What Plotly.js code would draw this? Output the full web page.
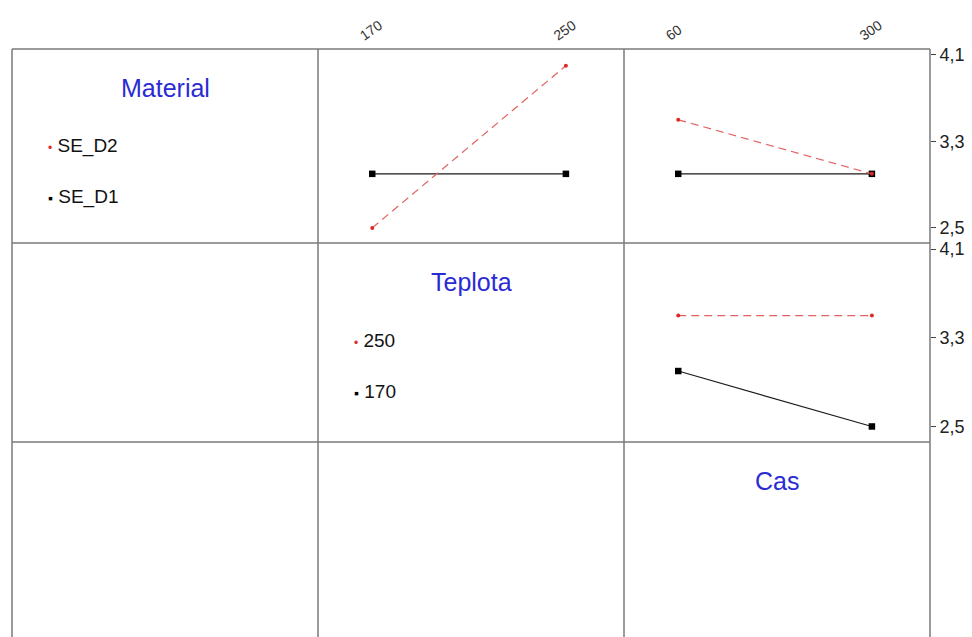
<!DOCTYPE html>
<html>
<head>
<meta charset="utf-8">
<script src="https://cdn.plot.ly/plotly-3.0.1.min.js"></script>
<style>
  html, body { margin: 0; padding: 0; overflow: hidden; background: #fff; }
  #chart { width: 972px; height: 645px; }
</style>
</head>
<body>
<div id="chart"></div>
<script>
// Factor names (diagonal of the matrix) and their levels
const factors = ['Material', 'Teplota', 'Cas'];
const teplotaLevels = ['170', '250'];
const casLevels = ['60', '300'];
const materialLegend = ['SE_D2', 'SE_D1'];
const teplotaLegend = ['250', '170'];

// Cell means: Material x Teplota
const seD1ByTeplota = [3.0, 3.0];
const seD2ByTeplota = [2.5, 4.0];
// Material x Cas
const seD1ByCas = [3.0, 3.0];
const seD2ByCas = [3.5, 3.0];
// Teplota x Cas
const t170ByCas = [3.0, 2.5];
const t250ByCas = [3.5, 3.5];

const yTicks = [2.5, 3.3, 4.1];

// Styles for the two levels of each line factor
const lowStyle = {
  mode: 'lines+markers',
  line: { color: '#1a1a1a', width: 1.2 },
  marker: { color: '#000', symbol: 'square', size: 6.5 }
};
const highStyle = {
  mode: 'lines+markers',
  line: { color: '#e26262', width: 1.2, dash: '8px,5px' },
  marker: { color: '#e02828', symbol: 'circle', size: 4 }
};

function series(x, y, xa, ya, style, name) {
  return Object.assign({ x: x, y: y, xaxis: xa, yaxis: ya, name: name,
    showlegend: false, hoverinfo: 'x+y+name' }, JSON.parse(JSON.stringify(style)));
}

const traces = [
  series(teplotaLevels, seD1ByTeplota, 'x', 'y', lowStyle, 'SE_D1'),
  series(teplotaLevels, seD2ByTeplota, 'x', 'y', highStyle, 'SE_D2'),
  series(casLevels, seD1ByCas, 'x2', 'y2', lowStyle, 'SE_D1'),
  series(casLevels, seD2ByCas, 'x2', 'y2', highStyle, 'SE_D2'),
  series(casLevels, t170ByCas, 'x3', 'y3', lowStyle, '170'),
  series(casLevels, t250ByCas, 'x3', 'y3', highStyle, '250')
];

// Matrix cell boundaries in paper coordinates
const colEdges = [0, 1 / 3, 2 / 3, 1];
const rowEdges = [1, 0.6706, 0.3328, 0];
const yRange = [2.36, 4.155];
const xRange = [-0.28, 1.3];

const family = 'Liberation Sans, Arial, sans-serif';
const tickFont = { family: family, size: 14, color: '#333' };
const yFont = { family: family, size: 18, color: '#222' };

function topX(domain, anchor) {
  return {
    domain: domain, anchor: anchor, side: 'top', type: 'category', range: xRange,
    showline: false, showgrid: false, zeroline: false, ticks: '',
    tickangle: -35, tickfont: tickFont, ticklabelshift: -12, ticklabelstandoff: 3
  };
}
function rightY(domain, anchor) {
  return {
    domain: domain, anchor: anchor, side: 'right', range: yRange,
    showline: false, showgrid: false, zeroline: false,
    tickvals: yTicks, tickformat: '.1f', ticks: 'outside', ticklen: 5,
    tickcolor: '#444', tickwidth: 1, tickfont: yFont
  };
}

const shapes = [];
colEdges.forEach(function (c) {
  shapes.push({ type: 'line', xref: 'paper', yref: 'paper', x0: c, x1: c, y0: 0, y1: 1,
    line: { color: '#7a7a7a', width: 1.5 } });
});
rowEdges.forEach(function (r) {
  shapes.push({ type: 'line', xref: 'paper', yref: 'paper', x0: 0, x1: 1, y0: r, y1: r,
    line: { color: '#7a7a7a', width: 1.5 } });
});

// Factor names on the diagonal, with level keys for the line factors
const annotations = [];
const labelFont = { family: family, size: 19, color: '#111' };
const pxH = 589; // plot-area height in px
factors.forEach(function (f, i) {
  const cx = (colEdges[i] + colEdges[i + 1]) / 2;
  annotations.push({ xref: 'paper', yref: 'paper', x: cx, y: rowEdges[i] - 39 / pxH,
    text: f, showarrow: false, xanchor: 'center', yanchor: 'middle',
    font: { family: family, size: 25, color: '#2b2bd4' } });
});
const keys = [materialLegend, teplotaLegend];
keys.forEach(function (levels, i) {
  levels.forEach(function (lv, j) {
    const glyph = j === 0
      ? '<span style="color:#e02828;font-size:12px">•</span>'
      : '<span style="color:#000;font-size:14px">▪</span>';
    annotations.push({ xref: 'paper', yref: 'paper',
      x: colEdges[i] + 34 / 918, y: rowEdges[i] - (97 + 51 * j) / pxH,
      text: glyph + ' ' + lv, showarrow: false, xanchor: 'left', yanchor: 'middle',
      font: labelFont });
  });
});

const layout = {
  width: 972, height: 645,
  margin: { l: 12, r: 42, t: 49, b: 7 },
  paper_bgcolor: '#fff', plot_bgcolor: 'rgba(0,0,0,0)',
  separators: ',.',
  font: { family: family },
  showlegend: false,
  xaxis: topX([colEdges[1], colEdges[2]], 'y'),
  yaxis: { domain: [rowEdges[1], rowEdges[0]], anchor: 'x', range: yRange,
    showticklabels: false, showline: false, showgrid: false, zeroline: false, ticks: '' },
  xaxis2: topX([colEdges[2], colEdges[3]], 'y2'),
  yaxis2: rightY([rowEdges[1], rowEdges[0]], 'x2'),
  xaxis3: Object.assign(topX([colEdges[2], colEdges[3]], 'y3'), { showticklabels: false }),
  yaxis3: rightY([rowEdges[2], rowEdges[1]], 'x3'),
  shapes: shapes,
  annotations: annotations
};

Plotly.newPlot('chart', traces, layout, { displayModeBar: false, staticPlot: true });
</script>
</body>
</html>
